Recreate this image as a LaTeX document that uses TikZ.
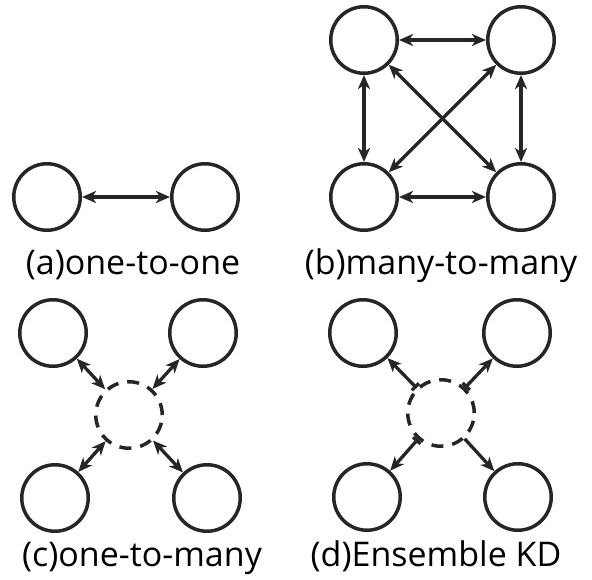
\documentclass[tikz,border=0pt]{standalone}
\usepackage{fontspec}
\setmainfont{Open Sans}
\usetikzlibrary{arrows.meta,positioning}

\begin{document}
\begin{tikzpicture}[x=1pt,y=-1pt,
	peer/.style={circle,draw=black!85,line width=3.5pt,minimum size=66.5pt,inner sep=0pt},
	hub/.style={peer,dash pattern=on 12pt off 9pt},
	link/.style={draw=black!85,line width=3.3pt},
	kdtip/.tip={Stealth[length=14pt,width=12pt,inset=4pt]},
	both/.style={link,kdtip-kdtip},
	oneway/.style={link,-kdtip},
	barway/.style={link,{Bar[width=10pt]}-kdtip},
	caption/.style={anchor=base,font=\fontsize{34}{38}\selectfont,text=black}]
	\useasboundingbox (0,0) rectangle (592,580);
	% (a)
	\node[peer] (a1) at (47,197) {};
		\node[peer,on grid,right=158pt of a1] (a2) {};
	\draw[both] (a1) -- (a2);
	\node[caption] (capa) at (133,275) {(a)one-to-one};
	% (b)
	\node[peer] (b1) at (364,40) {};
		\node[peer,on grid,right=157pt of b1] (b2) {};
		\node[peer,on grid,below=157pt of b1] (b3) {};
		\node[peer,on grid,below=157pt of b2] (b4) {};
	\draw[both] (b1) -- (b2);
	\draw[both] (b3) -- (b4);
	\draw[both] (b1) -- (b3);
	\draw[both] (b2) -- (b4);
	\draw[both] (b1) -- (b4);
	\draw[both] (b2) -- (b3);
	\node[caption] (capb) at (441,275) {(b)many-to-many};
	% (c)
	\node[hub] (c0) at (129,415) {};
		\node[peer,on grid,above left=82pt and 76pt of c0] (c1) {};
		\node[peer,on grid,above right=82pt and 74pt of c0] (c2) {};
		\node[peer,on grid,below left=83pt and 74pt of c0] (c3) {};
		\node[peer,on grid,below right=83pt and 78pt of c0] (c4) {};
	\foreach \n in {1,...,4}
		\draw[both] (c0) -- (c\n);
	\node[caption] (capc) at (142,566) {(c)one-to-many};
	% (d)
	\node[hub] (d0) at (441,413) {};
		\node[peer,on grid,above left=80pt and 78pt of d0] (d1) {};
		\node[peer,on grid,above right=80pt and 76pt of d0] (d2) {};
		\node[peer,on grid,below left=84pt and 74pt of d0] (d3) {};
		\node[peer,on grid,below right=84pt and 77pt of d0] (d4) {};
	\foreach \n in {1,2,3}
		\draw[barway] (d0) -- (d\n);
	\draw[oneway] (d0) -- (d4);
	\node[caption] (capd) at (436,566) {(d)Ensemble KD};
\end{tikzpicture}
\end{document}
